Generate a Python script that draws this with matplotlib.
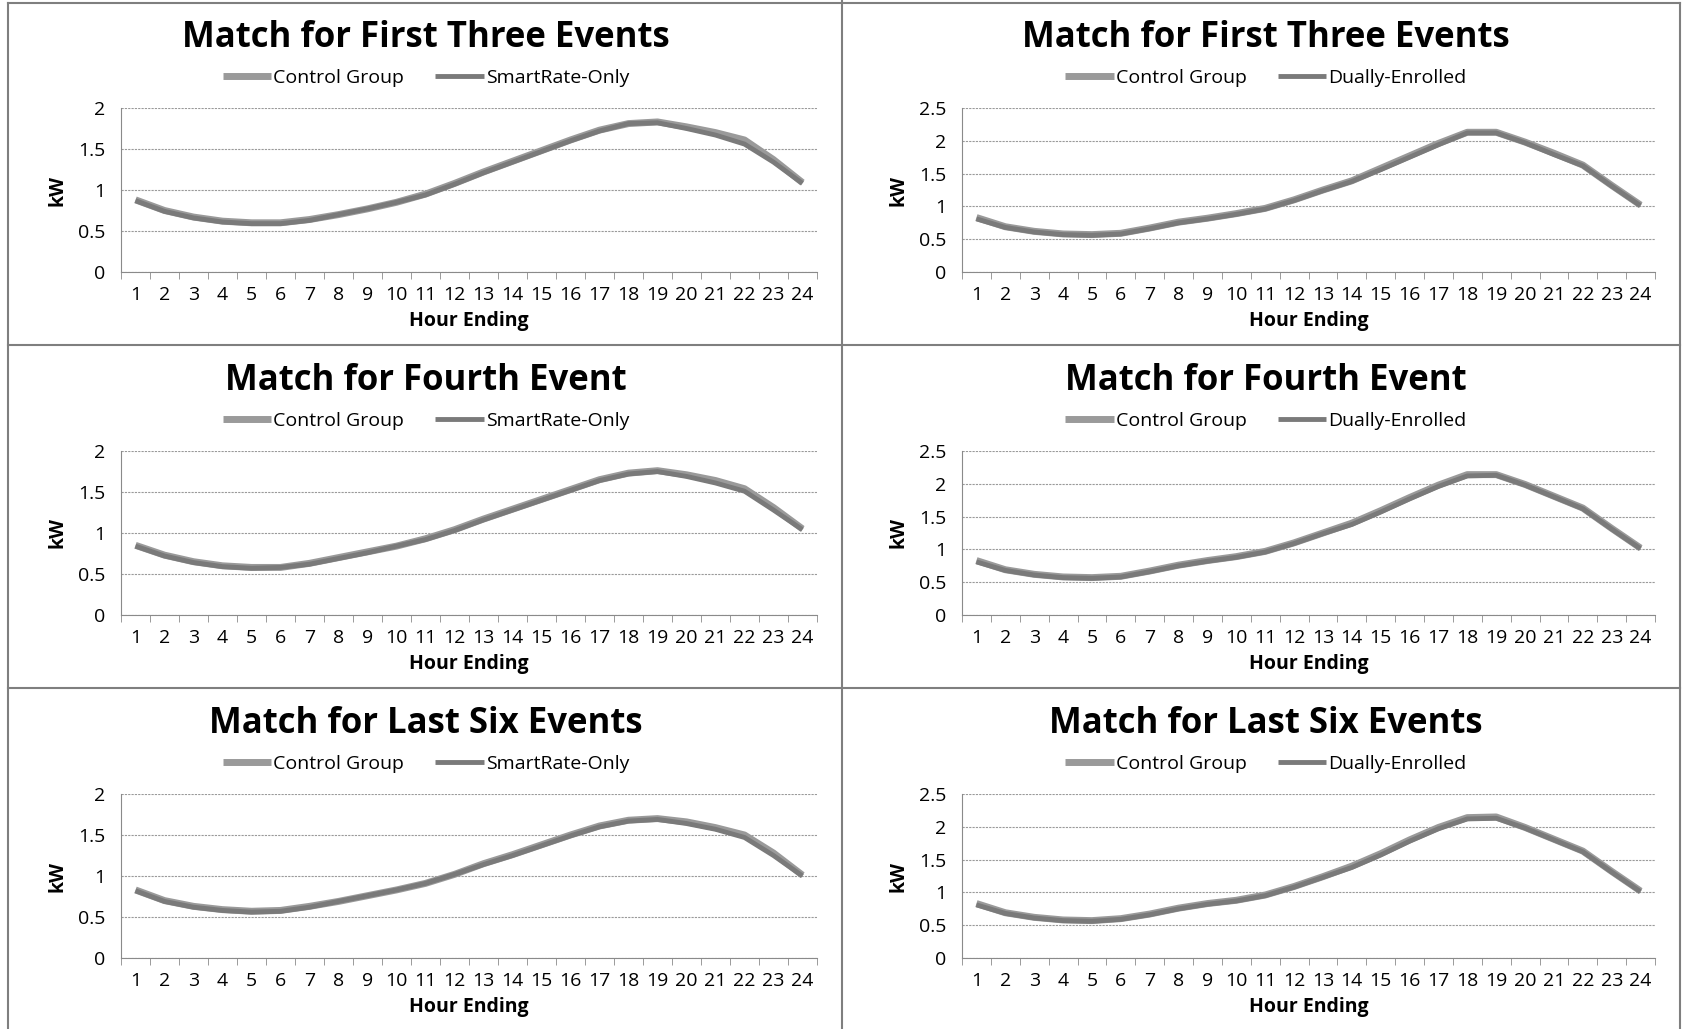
import matplotlib.pyplot as plt
import numpy as np

plt.rcParams['font.family'] = ['Open Sans', 'DejaVu Sans']

hours = list(range(1, 25))

# SmartRate-Only panels (left column)
ctrl_first3_sr = [0.88, 0.75, 0.67, 0.62, 0.60, 0.60, 0.64, 0.70, 0.77, 0.85, 0.95, 1.08, 1.22, 1.35, 1.48, 1.61, 1.73, 1.81, 1.83, 1.77, 1.70, 1.61, 1.37, 1.09]
sr_first3 = [0.87, 0.74, 0.66, 0.61, 0.59, 0.59, 0.63, 0.70, 0.77, 0.85, 0.94, 1.07, 1.21, 1.34, 1.47, 1.60, 1.72, 1.81, 1.82, 1.75, 1.67, 1.56, 1.34, 1.08]
ctrl_fourth_sr = [0.85, 0.73, 0.65, 0.60, 0.58, 0.58, 0.63, 0.70, 0.77, 0.84, 0.93, 1.04, 1.17, 1.29, 1.41, 1.53, 1.65, 1.73, 1.76, 1.71, 1.64, 1.54, 1.31, 1.05]
sr_fourth = [0.84, 0.72, 0.64, 0.59, 0.57, 0.58, 0.62, 0.69, 0.76, 0.84, 0.92, 1.03, 1.16, 1.28, 1.40, 1.52, 1.64, 1.72, 1.75, 1.69, 1.61, 1.51, 1.28, 1.04]
ctrl_last6_sr = [0.83, 0.70, 0.63, 0.59, 0.57, 0.58, 0.63, 0.69, 0.76, 0.83, 0.91, 1.02, 1.15, 1.26, 1.38, 1.50, 1.61, 1.68, 1.70, 1.66, 1.59, 1.50, 1.28, 1.01]
sr_last6 = [0.82, 0.69, 0.62, 0.58, 0.56, 0.57, 0.62, 0.69, 0.76, 0.83, 0.91, 1.02, 1.14, 1.25, 1.37, 1.49, 1.60, 1.67, 1.69, 1.64, 1.57, 1.47, 1.25, 1.00]

# Dually-Enrolled panels (right column)
ctrl_first3_de = [0.83, 0.69, 0.62, 0.58, 0.57, 0.59, 0.67, 0.76, 0.82, 0.89, 0.97, 1.10, 1.25, 1.39, 1.58, 1.77, 1.96, 2.13, 2.13, 1.98, 1.81, 1.63, 1.32, 1.02]
de_first3 = [0.81, 0.68, 0.61, 0.57, 0.56, 0.58, 0.66, 0.75, 0.81, 0.88, 0.96, 1.09, 1.24, 1.38, 1.56, 1.75, 1.94, 2.12, 2.12, 1.97, 1.79, 1.62, 1.31, 1.01]
ctrl_fourth_de = [0.83, 0.69, 0.62, 0.58, 0.57, 0.59, 0.67, 0.76, 0.83, 0.89, 0.97, 1.10, 1.25, 1.40, 1.59, 1.79, 1.98, 2.14, 2.14, 1.99, 1.81, 1.63, 1.32, 1.02]
de_fourth = [0.81, 0.68, 0.61, 0.57, 0.56, 0.58, 0.66, 0.75, 0.82, 0.88, 0.96, 1.09, 1.24, 1.38, 1.57, 1.77, 1.96, 2.12, 2.13, 1.98, 1.80, 1.62, 1.31, 1.01]
ctrl_last6_de = [0.83, 0.69, 0.62, 0.58, 0.57, 0.60, 0.67, 0.76, 0.83, 0.88, 0.96, 1.09, 1.24, 1.40, 1.59, 1.80, 1.99, 2.14, 2.15, 1.99, 1.81, 1.63, 1.32, 1.02]
de_last6 = [0.81, 0.68, 0.61, 0.57, 0.56, 0.59, 0.66, 0.75, 0.82, 0.87, 0.95, 1.08, 1.23, 1.38, 1.57, 1.78, 1.97, 2.12, 2.13, 1.98, 1.80, 1.62, 1.31, 1.01]

titles = ['Match for First Three Events', 'Match for Fourth Event', 'Match for Last Six Events']
left_series = [(ctrl_first3_sr, sr_first3), (ctrl_fourth_sr, sr_fourth), (ctrl_last6_sr, sr_last6)]
right_series = [(ctrl_first3_de, de_first3), (ctrl_fourth_de, de_fourth), (ctrl_last6_de, de_last6)]

W, H = 1682, 1029
fig = plt.figure(figsize=(W / 100, H / 100), dpi=100)

# axes boxes in pixels: left, right, title centre x, and row (top, bottom)
cols = [(121, 817, 426, 'SmartRate-Only', left_series, 2.0),
        (962, 1655, 1266, 'Dually-Enrolled', right_series, 2.5)]
rows = [(108, 272), (451, 615), (794, 958)]

grey = '#8a8a8a'
fs = 14

for c, (x0, x1, tx, treat_name, series, ymax) in enumerate(cols):
    for r, (y0, y1) in enumerate(rows):
        ax = fig.add_axes([x0 / W, 1 - y1 / H, (x1 - x0) / W, (y1 - y0) / H])
        ctrl, treat = series[r]
        ax.plot(hours, ctrl, color='#9a9a9a', lw=5, label='Control Group', solid_capstyle='butt')
        ax.plot(hours, treat, color='#7a7a7a', lw=3.5, label=treat_name, solid_capstyle='butt')
        ax.set_xlim(0.5, 24.5)
        ax.set_ylim(0, ymax)
        yt = np.arange(0, ymax + 0.01, 0.5)
        ax.set_yticks(yt)
        ax.set_yticklabels([f'{v:g}' for v in yt], fontsize=fs)
        ax.set_xticks(hours)
        ax.set_xticklabels([str(h) for h in hours], fontsize=fs)
        ax.set_xticks(np.arange(0.5, 25, 1), minor=True)
        ax.tick_params(axis='x', which='major', length=0, pad=10)
        ax.tick_params(axis='x', which='minor', length=5, color=grey, direction='out')
        ax.tick_params(axis='y', length=0, pad=11)
        ax.grid(axis='y', color='#9a9a9a', lw=0.8, ls=(0, (2, 1)))
        ax.set_axisbelow(True)
        for s in ['top', 'right']:
            ax.spines[s].set_visible(False)
        ax.spines['left'].set_color(grey)
        ax.spines['left'].set_linestyle((0, (2, 1)))
        ax.spines['bottom'].set_color(grey)
        ax.set_ylabel('kW', fontsize=fs, fontweight='bold', labelpad=8)
        ax.set_xlabel('Hour Ending', fontsize=fs, fontweight='bold', labelpad=5)

        fig.text(tx / W, 1 - (y0 - 70) / H, titles[r], ha='center', va='center',
                 fontsize=25, fontweight='bold')
        ax.legend(loc='center', bbox_to_anchor=(tx / W, 1 - (y0 - 30) / H),
                  bbox_transform=fig.transFigure, ncol=2, frameon=False,
                  fontsize=fs, handlelength=2.5, handletextpad=0.1, columnspacing=1.6)

# panel borders
border = dict(color='#7f7f7f', lw=1.5)
fig.add_artist(plt.Line2D([842 / W, 842 / W], [0, 1], **border))
fig.add_artist(plt.Line2D([8 / W, 8 / W], [0, 1 - 3 / H], **border))
fig.add_artist(plt.Line2D([1680 / W, 1680 / W], [0, 1 - 3 / H], **border))
for yb in [3, 345, 688]:
    fig.add_artist(plt.Line2D([8 / W, 1680 / W], [1 - yb / H, 1 - yb / H], **border))

plt.savefig('out.png', dpi=100)
